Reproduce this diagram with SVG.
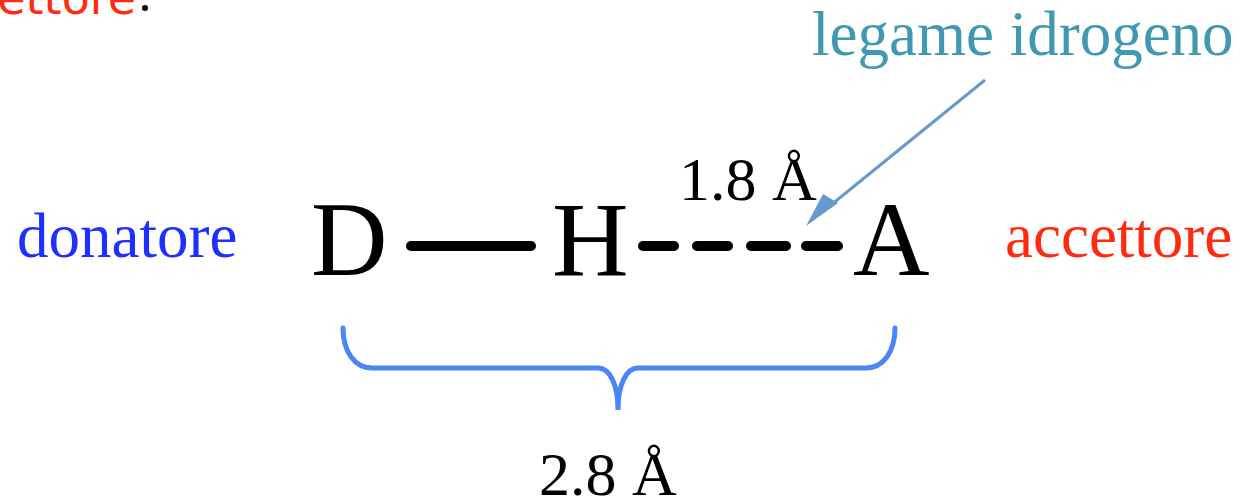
<svg xmlns="http://www.w3.org/2000/svg" width="1241" height="500" viewBox="0 0 1241 500">
<style>
text{font-family:"Liberation Serif","DejaVu Serif",serif}
.atom{font-size:106px;fill:#000}
.dist{font-size:62px;fill:#000}
.lbl{font-size:63px}
.bond{stroke:#000;stroke-width:10;stroke-linecap:round;fill:none}
</style>
<g id="fragment">
<text x="136" y="14" text-anchor="end" font-family="DejaVu Sans, sans-serif" font-size="46" fill="#ff2a0f" style="font-family:'DejaVu Sans',sans-serif">accettore</text>
<circle cx="145" cy="8" r="3" fill="#000"/>
</g>
<g id="donatore"><text class="lbl" x="17" y="257" fill="#1f2fff">donatore</text></g>
<g id="D"><text class="atom" x="311" y="275">D</text></g>
<g id="H"><text class="atom" x="552" y="275">H</text></g>
<g id="A"><text class="atom" x="853" y="275">A</text></g>
<g id="accettore"><text class="lbl" x="1005" y="257" fill="#ff2a0f">accettore</text></g>
<g id="legame"><text class="lbl" x="812" y="55" fill="#4099b0">legame idrogeno</text></g>
<g id="d18"><text class="dist" x="679" y="200">1.8 Å</text></g>
<g id="d28"><text class="dist" x="539" y="495">2.8 Å</text></g>
<g id="connectors">
<line class="bond" x1="411" y1="246" x2="531" y2="246"/>
<line class="bond" x1="643" y1="246" x2="674" y2="246"/>
<line class="bond" x1="697" y1="246" x2="728" y2="246"/>
<line class="bond" x1="751" y1="246" x2="786" y2="246"/>
<line class="bond" x1="806" y1="246" x2="838" y2="246"/>
<line x1="985" y1="80" x2="826" y2="209" stroke="#6699cc" stroke-width="3"/>
<path d="M838,203 L806,226 L823,194 Z" fill="#6699cc"/>
<path d="M343,328 C343,352 355,368 372,368 L598,368 C610,368 618,385 618,410 C618,385 626,368 638,368 L866,368 C883,368 895,352 895,328" fill="none" stroke="#4a86f5" stroke-width="5" stroke-linecap="round"/>
</g>
</svg>
